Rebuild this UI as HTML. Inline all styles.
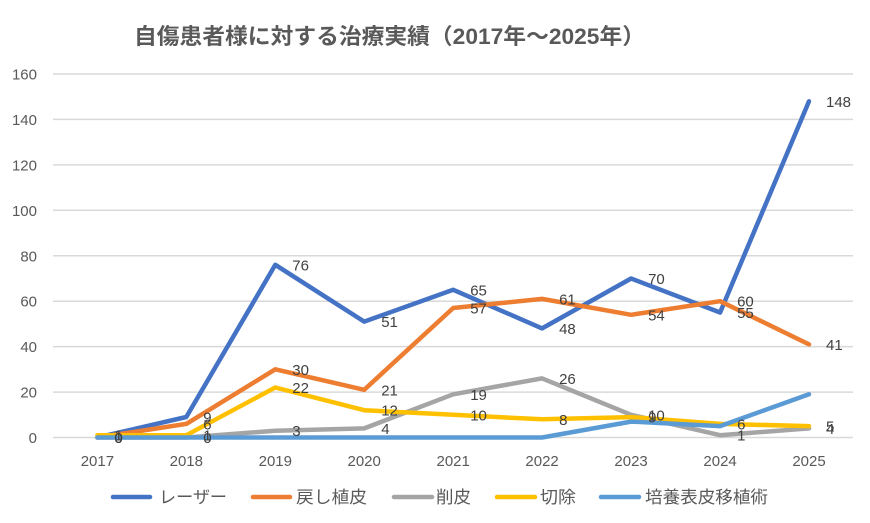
<!DOCTYPE html>
<html><head><meta charset="utf-8"><style>
html,body{margin:0;padding:0;background:#fff;}
svg{display:block;}
text{font-family:"Liberation Sans","Noto Sans CJK JP",sans-serif;}
</style></head><body>
<svg width="870" height="523" viewBox="0 0 870 523" xmlns="http://www.w3.org/2000/svg">
<rect width="870" height="523" fill="#fff"/>
<text x="134" y="44" font-size="22" font-weight="bold" fill="#595959" textLength="511" lengthAdjust="spacingAndGlyphs">自傷患者様に対する治療実績（2017年〜2025年）</text>
<g stroke="#D9D9D9" stroke-width="1.5">
<line x1="53" x2="853" y1="74" y2="74"/>
<line x1="53" x2="853" y1="119.4" y2="119.4"/>
<line x1="53" x2="853" y1="164.9" y2="164.9"/>
<line x1="53" x2="853" y1="210.3" y2="210.3"/>
<line x1="53" x2="853" y1="255.8" y2="255.8"/>
<line x1="53" x2="853" y1="301.2" y2="301.2"/>
<line x1="53" x2="853" y1="346.6" y2="346.6"/>
<line x1="53" x2="853" y1="392.1" y2="392.1"/>
<line x1="53" x2="853" y1="437.5" y2="437.5"/>
</g>
<g font-size="15" fill="#595959" text-anchor="end">
<text x="37" y="79.5">160</text>
<text x="37" y="124.9">140</text>
<text x="37" y="170.4">120</text>
<text x="37" y="215.8">100</text>
<text x="37" y="261.3">80</text>
<text x="37" y="306.7">60</text>
<text x="37" y="352.1">40</text>
<text x="37" y="397.6">20</text>
<text x="37" y="443">0</text>
</g>
<g font-size="15" fill="#595959" text-anchor="middle">
<text x="97.4" y="466">2017</text>
<text x="186.3" y="466">2018</text>
<text x="275.3" y="466">2019</text>
<text x="364.2" y="466">2020</text>
<text x="453.2" y="466">2021</text>
<text x="542.1" y="466">2022</text>
<text x="631.1" y="466">2023</text>
<text x="720.1" y="466">2024</text>
<text x="809" y="466">2025</text>
</g>
<g fill="none" stroke-width="4.5" stroke-linejoin="round" stroke-linecap="round">
<polyline stroke="#4472C4" points="97.4,437.5 186.3,417.0 275.3,264.8 364.2,321.6 453.2,289.8 542.1,328.4 631.1,278.5 720.1,312.5 809,101.3"/>
<polyline stroke="#ED7D31" points="97.4,437.5 186.3,423.9 275.3,369.3 364.2,389.8 453.2,308.0 542.1,298.9 631.1,314.8 720.1,301.2 809,344.4"/>
<polyline stroke="#A5A5A5" points="97.4,437.5 186.3,437.5 275.3,430.7 364.2,428.4 453.2,394.3 542.1,378.4 631.1,414.8 720.1,435.2 809,428.4"/>
<polyline stroke="#FFC000" points="97.4,435.2 186.3,435.2 275.3,387.5 364.2,410.2 453.2,414.8 542.1,419.3 631.1,417.1 720.1,423.9 809,426.1"/>
<polyline stroke="#5B9BD5" points="97.4,437.5 186.3,437.5 275.3,437.5 364.2,437.5 453.2,437.5 542.1,437.5 631.1,421.6 720.1,426.1 809,394.3"/>
</g>
<g font-size="15" fill="#404040">
<text x="114.4" y="443">0</text>
<text x="203.3" y="422.5">9</text>
<text x="292.3" y="270.3">76</text>
<text x="381.2" y="327.1">51</text>
<text x="470.2" y="295.3">65</text>
<text x="559.1" y="333.9">48</text>
<text x="648.1" y="284">70</text>
<text x="737.1" y="318">55</text>
<text x="826" y="106.8">148</text>

<text x="114.4" y="443">0</text>
<text x="203.3" y="429.4">6</text>
<text x="292.3" y="374.8">30</text>
<text x="381.2" y="395.3">21</text>
<text x="470.2" y="313.5">57</text>
<text x="559.1" y="304.4">61</text>
<text x="648.1" y="320.3">54</text>
<text x="737.1" y="306.7">60</text>
<text x="826" y="349.9">41</text>

<text x="114.4" y="443">0</text>
<text x="203.3" y="443">0</text>
<text x="292.3" y="436.2">3</text>
<text x="381.2" y="433.9">4</text>
<text x="470.2" y="399.8">19</text>
<text x="559.1" y="383.9">26</text>
<text x="648.1" y="420.3">10</text>
<text x="737.1" y="440.7">1</text>
<text x="826" y="433.9">4</text>

<text x="114.4" y="440.7">1</text>
<text x="203.3" y="440.7">1</text>
<text x="292.3" y="393">22</text>
<text x="381.2" y="415.7">12</text>
<text x="470.2" y="420.3">10</text>
<text x="559.1" y="424.8">8</text>
<text x="648.1" y="422.6">9</text>
<text x="737.1" y="429.4">6</text>
<text x="826" y="431.6">5</text>
</g>
<g stroke-width="4.5" stroke-linecap="round">
<line x1="113" x2="150" y1="497" y2="497" stroke="#4472C4"/>
<line x1="253" x2="290" y1="497" y2="497" stroke="#ED7D31"/>
<line x1="394" x2="432" y1="497" y2="497" stroke="#A5A5A5"/>
<line x1="497" x2="535" y1="497" y2="497" stroke="#FFC000"/>
<line x1="601" x2="639" y1="497" y2="497" stroke="#5B9BD5"/>
</g>
<g font-size="17" fill="#595959">
<text x="159" y="503" textLength="68" lengthAdjust="spacingAndGlyphs">レーザー</text>
<text x="296" y="503" textLength="71" lengthAdjust="spacingAndGlyphs">戻し植皮</text>
<text x="436" y="503" textLength="35" lengthAdjust="spacingAndGlyphs">削皮</text>
<text x="540" y="503" textLength="36" lengthAdjust="spacingAndGlyphs">切除</text>
<text x="645" y="503" textLength="123" lengthAdjust="spacingAndGlyphs">培養表皮移植術</text>
</g>
</svg>
</body></html>
